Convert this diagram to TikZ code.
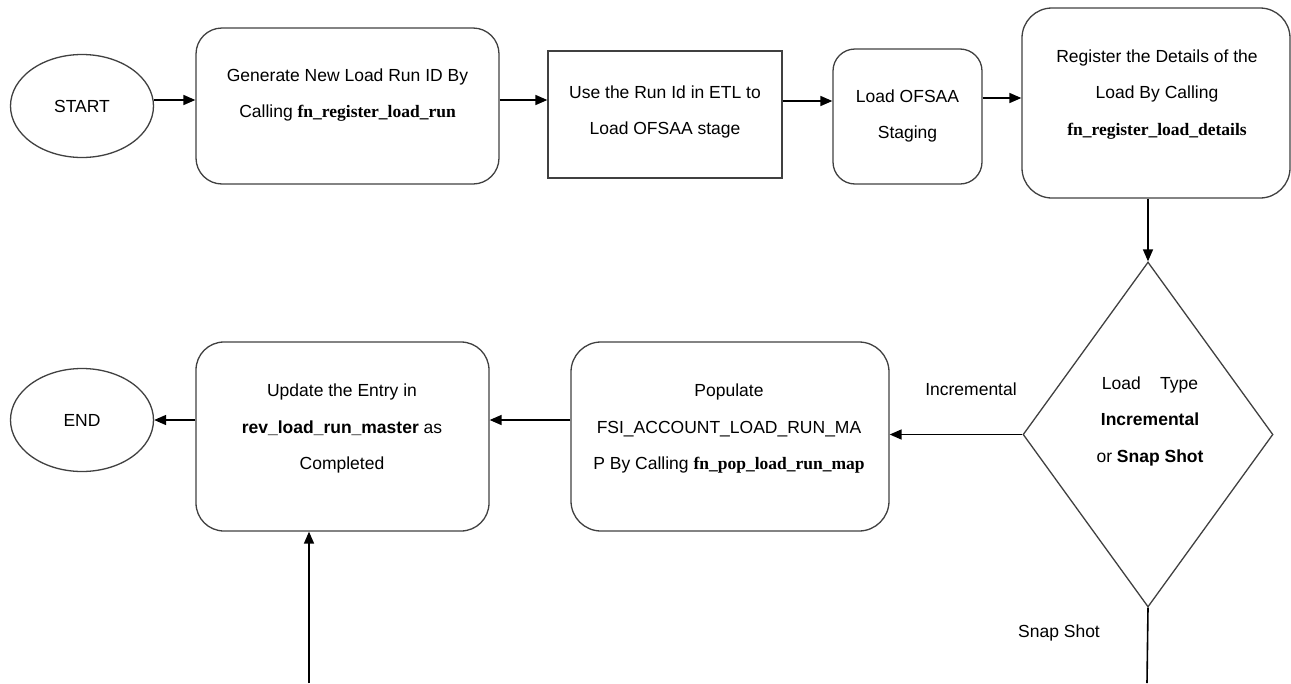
\documentclass[tikz,border=0pt]{standalone}
\usepackage{fontspec}
\setmainfont{Liberation Sans}
\newfontfamily\tms{Liberation Serif}
\usetikzlibrary{shapes.geometric,arrows.meta}
\tikzset{
  shapeline/.style={draw=black!75, line width=1.3pt},
  rbox/.style={shapeline, rectangle, inner sep=0pt},
  oval/.style={shapeline, ellipse, inner sep=0pt, minimum width=143pt, minimum height=103pt, font=\fontsize{17.5}{20}\selectfont},
  txt/.style={align=center, inner sep=0pt, font=\fontsize{17.5}{36.5}\selectfont},
  arr/.style={draw=black, line width=1.6pt, -{Triangle[length=12pt,width=10pt]}},
  plain/.style={draw=black, line width=1.6pt},
}
\newcommand{\tb}[1]{{\tms\bfseries #1}}
\begin{document}
\begin{tikzpicture}[x=1pt,y=-1pt]
\useasboundingbox (0,0) rectangle (1291,683);
% shapes
\node[oval] (start) at (82,106) {START};
\node[rbox, rounded corners=26pt, minimum width=303pt, minimum height=156pt] (box1) at (347.5,106) {};
\node[rbox, minimum width=234pt, minimum height=127pt] (box2) at (665,114.5) {};
\node[rbox, rounded corners=22pt, minimum width=149pt, minimum height=135pt] (box3) at (907.5,116.5) {};
\node[rbox, rounded corners=30pt, minimum width=268pt, minimum height=190pt] (box4) at (1156,103) {};
\node[shapeline, diamond, inner sep=0pt, minimum width=250pt, minimum height=345pt] (dia) at (1148,434.5) {};
\node[rbox, rounded corners=30pt, minimum width=318pt, minimum height=189pt] (pop) at (730,436.5) {};
\node[rbox, rounded corners=28pt, minimum width=293pt, minimum height=189pt] (upd) at (342.5,436.5) {};
\node[oval] (endn) at (82,420) {END};
% texts
\node[txt] (t1) at (347.5,95) {Generate New Load Run ID By\\Calling \tb{fn\_register\_load\_run}};
\node[txt] (t2) at (665,112) {Use the Run Id in ETL to\\Load OFSAA stage};
\node[txt] (t3) at (907.5,116) {Load OFSAA\\Staging};
\node[txt] (t4) at (1157,94.5) {Register the Details of the\\Load By Calling\\\tb{fn\_register\_load\_details}};
\node[txt] (t5) at (1150,421) {Load\hspace{1.1em}Type\\\textbf{Incremental}\hspace{0.5em}\\or \textbf{Snap Shot}};
\node[txt] (t6) at (729,429) {Populate\\FSI\_ACCOUNT\_LOAD\_RUN\_MA\\P By Calling \tb{fn\_pop\_load\_run\_map}};
\node[txt] (t7) at (342,428.5) {Update the Entry in\\\textbf{rev\_load\_run\_master} as\\Completed};
\node[txt] (lInc) at (971,389) {Incremental};
\node[txt] (lSnap) at (1059,633) {Snap Shot};
% helper coordinates
\coordinate (rA) at (0,100);
\coordinate (rB) at (0,101);
\coordinate (rC) at (0,98);
\coordinate (ssEnd) at (1147,683);
\coordinate (upIn) at (309,683);
% connectors
\draw[arr] (start.east |- rA) -- (box1.west |- rA);
\draw[arr] (box1.east |- rA) -- (box2.west |- rA);
\draw[arr] (box2.east |- rB) -- (box3.west |- rB);
\draw[arr] (box3.east |- rC) -- (box4.west |- rC);
\draw[arr] (box4.south -| dia.north) -- (dia.north);
\draw[arr] (dia.west) -- (dia.west -| pop.east);
\draw[arr] (pop.west |- endn.east) -- (upd.east |- endn.east);
\draw[arr] (upd.west |- endn.east) -- (endn.east);
\draw[plain] (dia.south) -- (ssEnd);
\draw[arr] (upIn) -- (upIn |- upd.south);
\end{tikzpicture}
\end{document}
